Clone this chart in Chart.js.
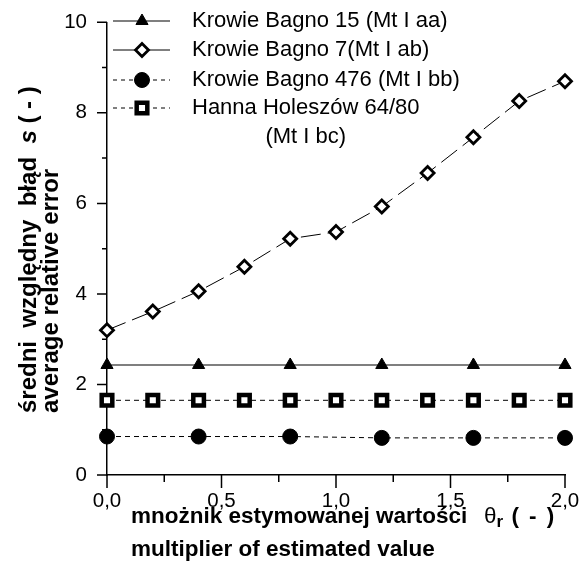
<!DOCTYPE html>
<html><head><meta charset="utf-8">
<script src="https://cdn.jsdelivr.net/npm/chart.js@4.4.0/dist/chart.umd.min.js"></script>
<style>html,body{margin:0;padding:0;background:#fff}canvas{display:block}</style>
</head><body>
<canvas id="c" width="583" height="566"></canvas>
<script>
// ---- data ----
const xFine = [0, 0.2, 0.4, 0.6, 0.8, 1.0, 1.2, 1.4, 1.6, 1.8, 2.0];
const xCoarse = [0, 0.4, 0.8, 1.2, 1.6, 2.0];
const kb15 = [2.43, 2.43, 2.43, 2.43, 2.43, 2.43];
const kb7 = [3.20, 3.61, 4.06, 4.60, 5.22, 5.37, 5.93, 6.67, 7.46, 8.26, 8.70];
const kb476 = [0.85, 0.85, 0.85, 0.82, 0.82, 0.82];
const hh = [1.65, 1.65, 1.65, 1.65, 1.65, 1.65, 1.65, 1.65, 1.65, 1.65, 1.65];
const seriesNames = ['Krowie Bagno 15 (Mt I aa)', 'Krowie Bagno 7(Mt I ab)', 'Krowie Bagno 476 (Mt I bb)', 'Hanna Holeszów 64/80'];
const legendExtra = '(Mt I bc)';
const yMajorTicks = [0, 2, 4, 6, 8, 10];
const yMinorTicks = [1, 3, 5, 7, 9];
const xMajorTicks = [0, 0.5, 1.0, 1.5, 2.0];
const xMinorTicks = [0.25, 0.75, 1.25, 1.75];
const yTitle1 = 'średni  względny  błąd  ';
const yTitleSym = 's';
const yTitleEnd = ' ( - )';
const yTitle2 = 'average relative error';
const xTitle1 = 'mnożnik estymowanej wartości';
const xTitleSym = 'θ';
const xTitleSub = 'r';
const xTitleEnd = ' ( - )';
const xTitle2 = 'multiplier of estimated value';

const FF = '"Liberation Sans", Arial, sans-serif';
const pts = (xs, ys) => xs.map((x, i) => ({x: x, y: ys[i]}));

const datasets = [
  {label: seriesNames[0], data: pts(xCoarse, kb15), borderColor: '#000', borderWidth: 1.2, borderDash: [], legendDash: [],
   pointStyle: 'triangle', pointRadius: 7, pointBackgroundColor: '#000', pointBorderColor: '#000', pointBorderWidth: 1},
  {label: seriesNames[1], data: pts(xFine, kb7), borderColor: '#000', borderWidth: 1, borderDash: [20, 7], legendDash: [],
   pointStyle: 'rectRot', pointRadius: 6.5, pointBackgroundColor: '#fff', pointBorderColor: '#000', pointBorderWidth: 2.8},
  {label: seriesNames[2], data: pts(xCoarse, kb476), borderColor: '#000', borderWidth: 1, borderDash: [5, 4], legendDash: [4, 4],
   pointStyle: 'circle', pointRadius: 7.5, pointBackgroundColor: '#000', pointBorderColor: '#000', pointBorderWidth: 1},
  {label: seriesNames[3], data: pts(xFine, hh), borderColor: '#000', borderWidth: 1, borderDash: [5, 4], legendDash: [4, 4],
   pointStyle: 'rect', pointRadius: 7.5, pointBackgroundColor: '#fff', pointBorderColor: '#000', pointBorderWidth: 4.5}
];
datasets.forEach(d => { d.clip = false; d.tension = 0; d.fill = false; d.pointHoverRadius = d.pointRadius; });

const decor = {
  id: 'decor',
  afterDraw(chart) {
    const ctx = chart.ctx, xs = chart.scales.x, ys = chart.scales.y;
    const L = chart.chartArea.left, B = chart.chartArea.bottom;
    ctx.save();
    ctx.strokeStyle = '#000';
    ctx.lineWidth = 1.5;
    ctx.setLineDash([]);
    ctx.beginPath();
    yMajorTicks.forEach(v => { const p = ys.getPixelForValue(v); ctx.moveTo(L - 10, p); ctx.lineTo(L, p); });
    yMinorTicks.forEach(v => { const p = ys.getPixelForValue(v); ctx.moveTo(L - 5, p); ctx.lineTo(L, p); });
    xMajorTicks.forEach(v => { const p = xs.getPixelForValue(v); ctx.moveTo(p, B); ctx.lineTo(p, B + 13); });
    xMinorTicks.forEach(v => { const p = xs.getPixelForValue(v); ctx.moveTo(p, B); ctx.lineTo(p, B + 7); });
    ctx.stroke();

    // legend
    const rows = [21, 50, 80, 108];
    ctx.font = '22px ' + FF;
    ctx.fillStyle = '#000';
    ctx.textBaseline = 'middle';
    ctx.textAlign = 'left';
    datasets.forEach((d, i) => {
      const y = rows[i];
      ctx.save();
      ctx.lineWidth = d.borderWidth;
      ctx.setLineDash(d.legendDash);
      ctx.beginPath(); ctx.moveTo(113, y); ctx.lineTo(170, y); ctx.stroke();
      ctx.restore();
      ctx.save();
      ctx.fillStyle = d.pointBackgroundColor;
      ctx.strokeStyle = d.pointBorderColor;
      ctx.lineWidth = d.pointBorderWidth;
      ctx.setLineDash([]);
      Chart.helpers.drawPoint(ctx, {pointStyle: d.pointStyle, radius: d.pointRadius, borderWidth: d.pointBorderWidth, rotation: 0}, 142, y);
      ctx.restore();
      ctx.fillText(d.label, 192, y);
    });
    const w = ctx.measureText(seriesNames[3]).width;
    ctx.textAlign = 'center';
    ctx.fillText(legendExtra, 192 + w / 2, 137);

    // x title
    ctx.textAlign = 'left';
    ctx.textBaseline = 'alphabetic';
    ctx.font = 'bold 22.5px ' + FF;
    ctx.fillText(xTitle1, 131, 523);
    ctx.fillText(xTitle2, 131, 556);
    let tx = 484;
    ctx.font = '22.5px ' + FF;
    ctx.fillText(xTitleSym, tx, 523); tx += ctx.measureText(xTitleSym).width;
    ctx.font = 'bold 17px ' + FF;
    ctx.fillText(xTitleSub, tx, 527); tx += ctx.measureText(xTitleSub).width;
    ctx.font = 'bold 22.5px ' + FF;
    ctx.letterSpacing = '2px';
    ctx.fillText(xTitleEnd, tx, 523);
    ctx.letterSpacing = '0px';

    // y title
    ctx.save();
    ctx.translate(0, 413);
    ctx.rotate(-Math.PI / 2);
    ctx.font = 'bold 24px ' + FF;
    let ty = 0;
    ctx.fillText(yTitle1, ty, 36); ty += ctx.measureText(yTitle1).width;
    ctx.font = 'bold italic 24px ' + FF;
    ctx.fillText(yTitleSym, ty, 36); ty += ctx.measureText(yTitleSym).width;
    ctx.font = 'bold 24px ' + FF;
    ctx.fillText(yTitleEnd, ty, 36);
    ctx.fillText(yTitle2, 0, 58);
    ctx.restore();
    ctx.restore();
  }
};

new Chart(document.getElementById('c'), {
  type: 'line',
  data: {datasets: datasets},
  options: {
    responsive: false,
    animation: false,
    devicePixelRatio: 1,
    layout: {padding: {top: 15, right: 18, left: 0, bottom: 0}},
    plugins: {legend: {display: false}, tooltip: {enabled: false}, title: {display: false}},
    scales: {
      x: {
        type: 'linear', min: 0, max: 2,
        afterFit: s => { s.height = 91; },
        border: {display: true, color: '#000', width: 1.5},
        grid: {display: true, drawOnChartArea: false, drawTicks: true, tickLength: 13, tickColor: 'rgba(0,0,0,0)'},
        ticks: {stepSize: 0.5, padding: 1, color: '#000', font: {family: FF, size: 20.5},
                maxRotation: 0, autoSkip: false,
                callback: v => Number(v).toFixed(1).replace('.', ',')}
      },
      y: {
        type: 'linear', min: 0, max: 10,
        afterFit: s => { s.width = 107; },
        border: {display: true, color: '#000', width: 1.5},
        grid: {display: true, drawOnChartArea: false, drawTicks: true, tickLength: 10, tickColor: 'rgba(0,0,0,0)'},
        ticks: {stepSize: 2, padding: 10, color: '#000', font: {family: FF, size: 20.5}}
      }
    }
  },
  plugins: [decor]
});
</script>
</body></html>
